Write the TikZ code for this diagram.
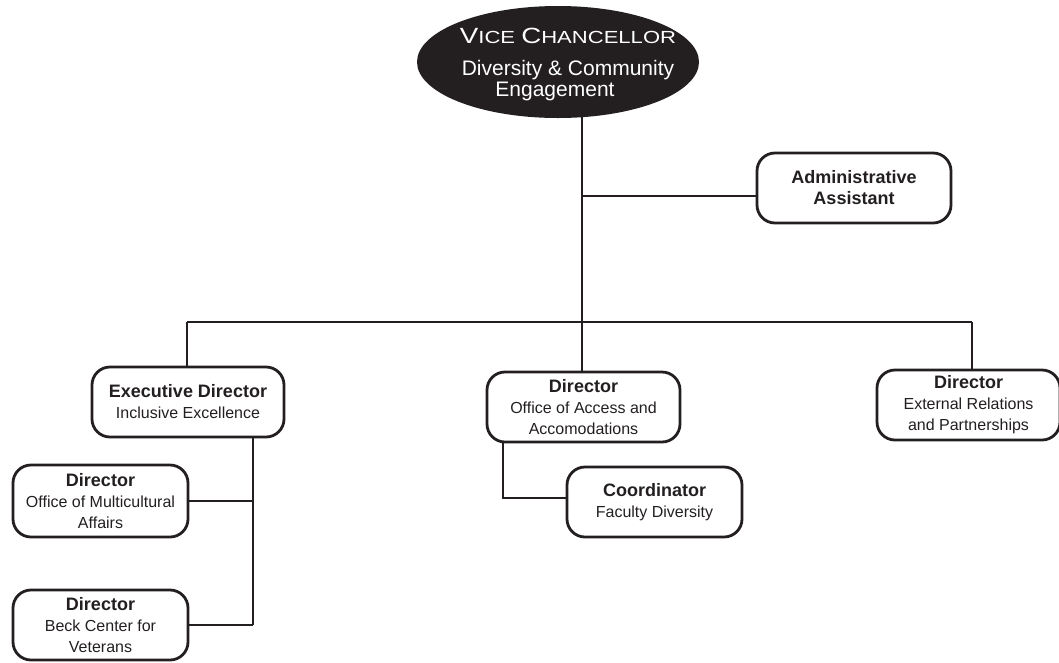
\documentclass[tikz,border=0pt]{standalone}
\usepackage{fontspec}
\setmainfont{Liberation Sans}
\usepackage{graphicx}
\usetikzlibrary{shapes.geometric}
\definecolor{ink}{HTML}{231F20}
\newcommand{\ttl}[1]{{\fontsize{18}{21}\selectfont\bfseries #1}}
\newcommand{\bigc}[1]{{\fontsize{22}{21}\selectfont #1}}
\newcommand{\smc}[1]{{\fontsize{17.5}{21}\selectfont #1}}
\tikzset{
  box/.style={draw=ink, line width=2.8pt, rounded corners=18pt, align=center,
    inner sep=0pt, font=\fontsize{16}{21}\selectfont, text=ink},
  conn/.style={draw=ink, line width=2.8pt},
  vctext/.style={anchor=base, text=white, inner sep=0pt, font=\fontsize{21}{21}\selectfont}
}
\begin{document}
\begin{tikzpicture}[x=1pt,y=-1pt]
\useasboundingbox (0,0) rectangle (1059,662);
% top ellipse
\node[ellipse, fill=ink, draw=none, minimum width=282pt, minimum height=112pt, inner sep=0pt] (vc) at (558,62) {};
\node[vctext] (vct1) at (568,43) {\scalebox{1.26}[1]{\bigc{V}\smc{ICE }\bigc{C}\smc{HANCELLOR}}};
\node[vctext] (vct2) at (568,75) {Diversity \& Community};
\node[vctext] (vct3) at (555,96) {Engagement};
% boxes
\node[box, minimum width=194pt, minimum height=70pt] (admin) at (854,188) {\ttl{Administrative}\\\ttl{Assistant}};
\node[box, minimum width=192pt, minimum height=70pt] (exec) at (188,402) {\ttl{Executive Director}\\Inclusive Excellence};
\node[box, minimum width=193pt, minimum height=70pt] (access) at (583.5,407) {\ttl{Director}\\Office of Access and\\Accomodations};
\node[box, minimum width=183pt, minimum height=70pt] (ext) at (968.5,405) {\ttl{Director}\\External Relations\\and Partnerships};
\node[box, minimum width=175pt, minimum height=70pt] (coord) at (654.5,502) {\ttl{Coordinator}\\Faculty Diversity};
\node[box, minimum width=175pt, minimum height=72pt] (multi) at (100.5,501) {\ttl{Director}\\Office of Multicultural\\Affairs};
\node[box, minimum width=175pt, minimum height=70pt] (beck) at (100.5,625) {\ttl{Director}\\Beck Center for\\Veterans};
% junction coordinates
\coordinate (top) at (582,105);
\coordinate (j1) at (582,196);
\coordinate (bus) at (582,322);
\coordinate (busL) at (187,322);
\coordinate (busR) at (972,322);
\coordinate (e) at (253,625);
\coordinate (a1) at (503,498);
% connectors
\draw[conn] (top) -- (bus);
\draw[conn] (j1) -- (j1 -| admin.west);
\draw[conn] (busL) -- (busR);
\draw[conn] (busL) -- (busL |- exec.north);
\draw[conn] (bus) -- (bus |- access.north);
\draw[conn] (busR) -- (busR |- ext.north);
\draw[conn] (exec.south -| e) -- (e);
\draw[conn] (multi.east) -- (multi.east -| e);
\draw[conn] (beck.east) -- (e);
\draw[conn] (access.south -| a1) -- (a1) -- (a1 -| coord.west);
\end{tikzpicture}
\end{document}
